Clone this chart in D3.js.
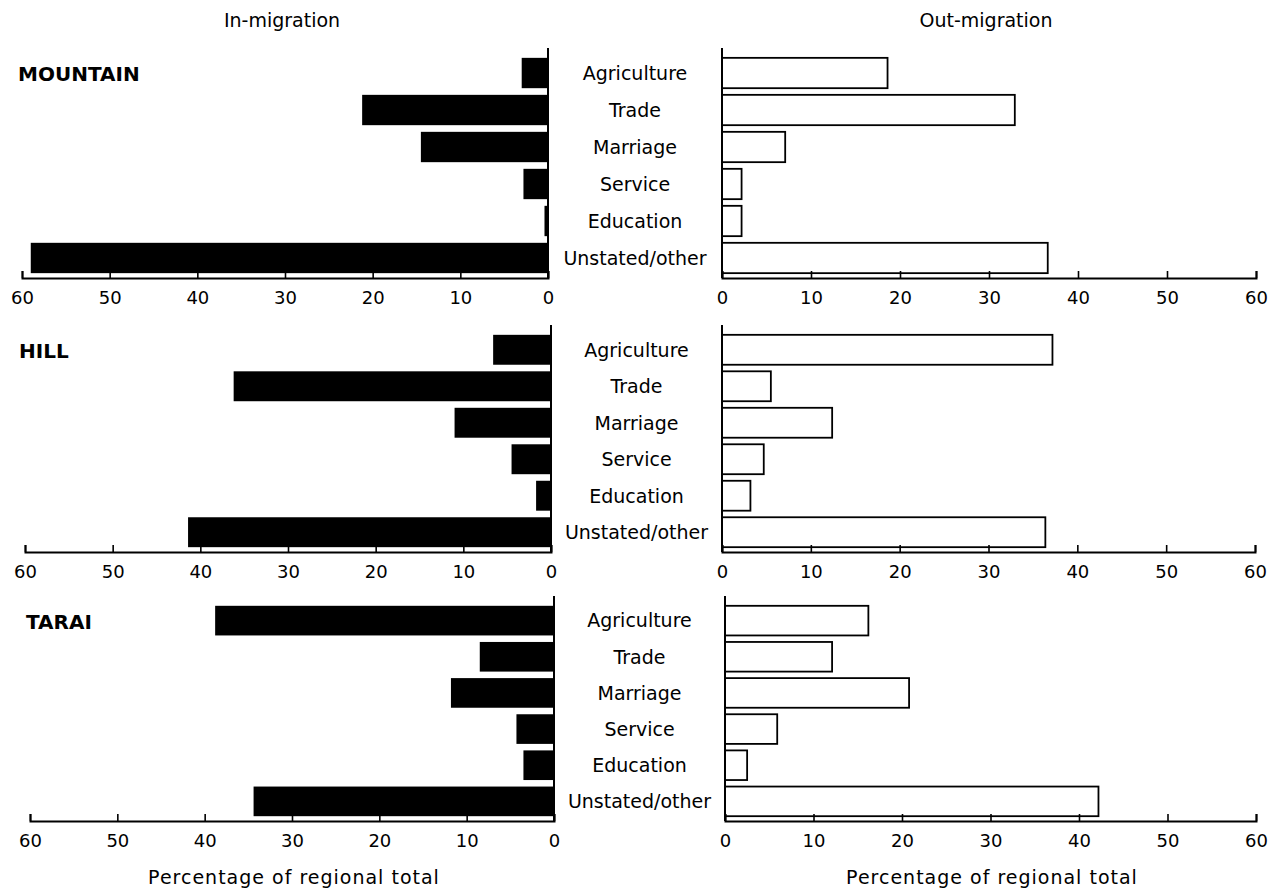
<!DOCTYPE html>
<html>
<head>
<meta charset="utf-8">
<script src="https://cdn.jsdelivr.net/npm/d3@7"></script>
<style>
  html, body { margin: 0; padding: 0; background: #fff; }
  svg { display: block; font-family: "DejaVu Sans", sans-serif; }
  text { fill: #000; }
</style>
</head>
<body>
<svg id="chart" width="1271" height="891"></svg>
<script>
// ---------- data ----------
const categories = ["Agriculture", "Trade", "Marriage", "Service", "Education", "Unstated/other"];
const regions = ["MOUNTAIN", "HILL", "TARAI"];
const mountainIn  = [3.0, 21.2, 14.5, 2.8, 0.4, 59.0];
const mountainOut = [18.6, 32.9, 7.1, 2.2, 2.2, 36.6];
const hillIn      = [6.6, 36.2, 11.0, 4.5, 1.7, 41.4];
const hillOut     = [37.2, 5.5, 12.4, 4.7, 3.2, 36.4];
const taraiIn     = [38.8, 8.5, 11.8, 4.3, 3.5, 34.4];
const taraiOut    = [16.2, 12.1, 20.8, 5.9, 2.5, 42.2];
const tickValues  = [0, 10, 20, 30, 40, 50, 60];
const inTitle = "In-migration";
const outTitle = "Out-migration";
const axisTitle = "Percentage of regional total";

const inSeries = [mountainIn, hillIn, taraiIn];
const outSeries = [mountainOut, hillOut, taraiOut];

// ---------- layout ----------
const layout = [
  { top: 48,  axisY: 278, l0: 548, l60: 22, r0: 722, r60: 1256 },
  { top: 325, axisY: 552, l0: 551, l60: 25, r0: 722, r60: 1255 },
  { top: 596, axisY: 821, l0: 554, l60: 30, r0: 725, r60: 1256 }
];

const svg = d3.select("#chart");

svg.append("text").attr("x", 282).attr("y", 27).attr("text-anchor", "middle")
  .style("font-size", "19px").text(inTitle);
svg.append("text").attr("x", 986).attr("y", 27).attr("text-anchor", "middle")
  .style("font-size", "19px").text(outTitle);

regions.forEach((region, i) => {
  const L = layout[i];
  const g = svg.append("g");
  const y = d3.scaleBand().domain(categories)
    .range([L.top + 8, L.axisY - 3]).paddingInner(0.18).paddingOuter(0.05);
  const xl = d3.scaleLinear().domain([0, 60]).range([L.l0, L.l60]);
  const xr = d3.scaleLinear().domain([0, 60]).range([L.r0, L.r60]);

  // left (in-migration) bars
  g.selectAll(".inbar").data(inSeries[i]).join("rect")
    .attr("class", "inbar")
    .attr("x", d => xl(d))
    .attr("y", (d, j) => y(categories[j]))
    .attr("width", d => xl(0) - xl(d))
    .attr("height", y.bandwidth())
    .attr("fill", "#000");

  // right (out-migration) bars
  g.selectAll(".outbar").data(outSeries[i]).join("rect")
    .attr("class", "outbar")
    .attr("x", xr(0))
    .attr("y", (d, j) => y(categories[j]))
    .attr("width", d => xr(d) - xr(0))
    .attr("height", y.bandwidth())
    .attr("fill", "#fff")
    .attr("stroke", "#000")
    .attr("stroke-width", 1.8);

  // vertical zero lines
  g.append("line").attr("x1", xl(0)).attr("x2", xl(0))
    .attr("y1", L.top).attr("y2", L.axisY).attr("stroke", "#000").attr("stroke-width", 2);
  g.append("line").attr("x1", xr(0)).attr("x2", xr(0))
    .attr("y1", L.top).attr("y2", L.axisY).attr("stroke", "#000").attr("stroke-width", 2);

  // horizontal axes
  const axL = d3.axisBottom(xl).tickValues(tickValues).tickFormat(d3.format("d"))
    .tickSize(-7).tickSizeOuter(-7).tickPadding(13);
  const axR = d3.axisBottom(xr).tickValues(tickValues).tickFormat(d3.format("d"))
    .tickSize(-7).tickSizeOuter(-7).tickPadding(13);
  [axL, axR].forEach(ax => {
    const a = g.append("g").attr("transform", `translate(0,${L.axisY})`).call(ax);
    a.select(".domain").attr("stroke", "#000").attr("stroke-width", 2);
    a.selectAll(".tick line").attr("stroke", "#000").attr("stroke-width", 1.6);
    a.selectAll(".tick text").style("font-size", "18px")
      .style("font-family", "DejaVu Sans, sans-serif").attr("fill", "#000");
  });

  // category labels
  const cx = (xl(0) + xr(0)) / 2;
  g.selectAll(".cat").data(categories).join("text")
    .attr("class", "cat")
    .attr("x", cx)
    .attr("y", d => y(d) + y.bandwidth() / 2)
    .attr("dy", "0.36em")
    .attr("text-anchor", "middle")
    .style("font-size", "19px")
    .text(d => d);

  // region label
  g.append("text")
    .attr("x", [18, 19, 26][i])
    .attr("y", y(categories[0]) + y.bandwidth() / 2 + 1)
    .attr("dy", "0.36em")
    .style("font-size", "20px").style("font-weight", "bold")
    .text(region);
});

// bottom axis titles
svg.append("text").attr("x", 294).attr("y", 884).attr("text-anchor", "middle")
  .style("font-size", "19px").style("letter-spacing", "1px").text(axisTitle);
svg.append("text").attr("x", 992).attr("y", 884).attr("text-anchor", "middle")
  .style("font-size", "19px").style("letter-spacing", "1px").text(axisTitle);
</script>
</body>
</html>
